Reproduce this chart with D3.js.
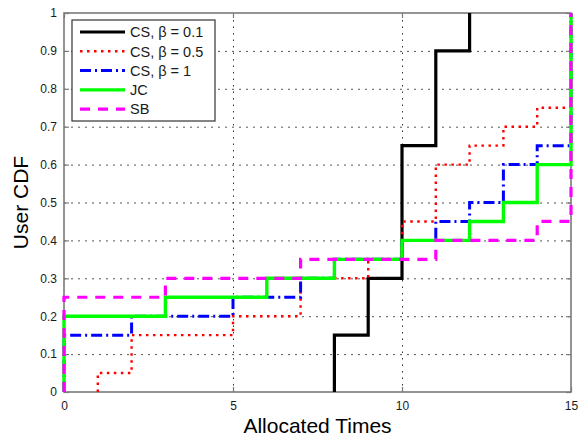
<!DOCTYPE html>
<html>
<head>
<meta charset="utf-8">
<script src="https://cdn.jsdelivr.net/npm/d3@7"></script>
<style>
  html, body { margin: 0; padding: 0; background: #fff; }
  svg { display: block; font-family: "Liberation Sans", Arial, sans-serif; }
</style>
</head>
<body>
<svg id="chart" width="579" height="436"></svg>
<script>
// ---- data (stairs: jump positions and CDF value after each jump) ----
const seriesNames = ["CS, \u03B2 = 0.1", "CS, \u03B2 = 0.5", "CS, \u03B2 = 1", "JC", "SB"];
const csB01X = [8, 9, 10, 11, 12];
const csB01Y = [0.15, 0.3, 0.65, 0.9, 1];
const csB05X = [1, 2, 5, 7, 9, 10, 11, 12, 13, 14, 15];
const csB05Y = [0.05, 0.15, 0.2, 0.3, 0.35, 0.45, 0.6, 0.65, 0.7, 0.75, 1];
const csB1X = [0, 2, 5, 7, 8, 10, 11, 12, 13, 14, 15];
const csB1Y = [0.15, 0.2, 0.25, 0.3, 0.35, 0.4, 0.45, 0.5, 0.6, 0.65, 1];
const jcX = [0, 3, 6, 8, 10, 12, 13, 14, 15];
const jcY = [0.2, 0.25, 0.3, 0.35, 0.4, 0.45, 0.5, 0.6, 1];
const sbX = [0, 3, 7, 11, 14, 15];
const sbY = [0.25, 0.3, 0.35, 0.4, 0.45, 1];
const xTicks = [0, 5, 10, 15];
const yTicks = [0, 0.1, 0.2, 0.3, 0.4, 0.5, 0.6, 0.7, 0.8, 0.9, 1];
const xGrid = [5, 10];
const yGrid = [0.1, 0.2, 0.3, 0.4, 0.5, 0.6, 0.7, 0.8, 0.9];

// ---- styles ----
const styles = [
  { color: "#000000", width: 3.2, dash: null },
  { color: "#ff0000", width: 2.4, dash: "2.5,4.5" },
  { color: "#0000ff", width: 3, dash: "11,4,2,4" },
  { color: "#00ff00", width: 3.4, dash: null },
  { color: "#ff00ff", width: 3.2, dash: "10,8" }
];
const seriesX = [csB01X, csB05X, csB1X, jcX, sbX];
const seriesY = [csB01Y, csB05Y, csB1Y, jcY, sbY];

const L = 64, R = 571, T = 13, B = 392;
const x = d3.scaleLinear().domain([0, 15]).range([L, R]);
const y = d3.scaleLinear().domain([0, 1]).range([B, T]);
const svg = d3.select("#chart");
const axisColor = "#7a7a7a";
const fmt = d => String(Math.round(d * 10) / 10);

// grid
svg.append("g").attr("transform", `translate(0,${B})`)
  .call(d3.axisBottom(x).tickValues(xGrid).tickSize(-(B - T)).tickFormat(""))
  .call(g => g.select(".domain").remove())
  .call(g => g.selectAll("line").attr("stroke", "#333").attr("stroke-width", 1).attr("stroke-dasharray", "1.5,5"));
svg.append("g").attr("transform", `translate(${L},0)`)
  .call(d3.axisLeft(y).tickValues(yGrid).tickSize(-(R - L)).tickFormat(""))
  .call(g => g.select(".domain").remove())
  .call(g => g.selectAll("line").attr("stroke", "#555").attr("stroke-width", 1).attr("stroke-dasharray", "2,5"));

// axes with inward ticks
function styleAxis(g) {
  g.select(".domain").remove();
  g.selectAll("line").attr("stroke", axisColor).attr("stroke-width", 1.2);
  g.selectAll("text").attr("fill", "#1a1a1a").style("font-size", "12px")
    .style("font-family", "'Liberation Sans', Arial, sans-serif");
}
svg.append("g").attr("transform", `translate(${L},0)`)
  .call(d3.axisLeft(y).tickValues(yTicks).tickSizeInner(-5).tickSizeOuter(0).tickPadding(7).tickFormat(fmt))
  .call(styleAxis);
svg.append("g").attr("transform", `translate(${R},0)`)
  .call(d3.axisRight(y).tickValues(yTicks).tickSizeInner(-5).tickSizeOuter(0).tickFormat(""))
  .call(styleAxis);
svg.append("g").attr("transform", `translate(0,${B})`)
  .call(d3.axisBottom(x).tickValues(xTicks).tickSizeInner(-5).tickSizeOuter(0).tickPadding(9).tickFormat(fmt))
  .call(styleAxis);
svg.append("g").attr("transform", `translate(0,${T})`)
  .call(d3.axisTop(x).tickValues(xTicks).tickSizeInner(-5).tickSizeOuter(0).tickFormat(""))
  .call(styleAxis);

// box
svg.append("rect").attr("x", L).attr("y", T).attr("width", R - L).attr("height", B - T)
  .attr("fill", "none").attr("stroke", axisColor).attr("stroke-width", 1.6);

// series
const line = d3.line().x(d => x(d[0])).y(d => y(d[1])).curve(d3.curveStepAfter);
seriesX.forEach((xs, i) => {
  const ys = seriesY[i];
  const pts = [[xs[0], 0]];
  xs.forEach((xv, j) => pts.push([xv, ys[j]]));
  svg.append("path").datum(pts)
    .attr("d", line)
    .attr("fill", "none")
    .attr("stroke", styles[i].color)
    .attr("stroke-width", styles[i].width)
    .attr("stroke-dasharray", styles[i].dash)
    .attr("stroke-linejoin", "miter");
});

// legend
const lg = svg.append("g");
lg.append("rect").attr("x", 72).attr("y", 20).attr("width", 143).attr("height", 101)
  .attr("fill", "#fff").attr("stroke", "#333").attr("stroke-width", 1.2);
seriesNames.forEach((name, i) => {
  const yy = 32 + i * 19.3;
  lg.append("line").attr("x1", 80).attr("x2", 125).attr("y1", yy).attr("y2", yy)
    .attr("stroke", styles[i].color).attr("stroke-width", styles[i].width)
    .attr("stroke-dasharray", styles[i].dash);
  lg.append("text").attr("x", 130).attr("y", yy).attr("dy", "0.36em")
    .style("font-size", "14.5px").attr("fill", "#1a1a1a").text(name);
});

// axis titles
svg.append("text").attr("x", (L + R) / 2).attr("y", 433).attr("text-anchor", "middle")
  .style("font-size", "21px").attr("fill", "#000").text("Allocated Times");
svg.append("text").attr("transform", `translate(28,${(T + B) / 2}) rotate(-90)`)
  .attr("text-anchor", "middle").style("font-size", "21px").attr("fill", "#000").text("User CDF");
</script>
</body>
</html>
